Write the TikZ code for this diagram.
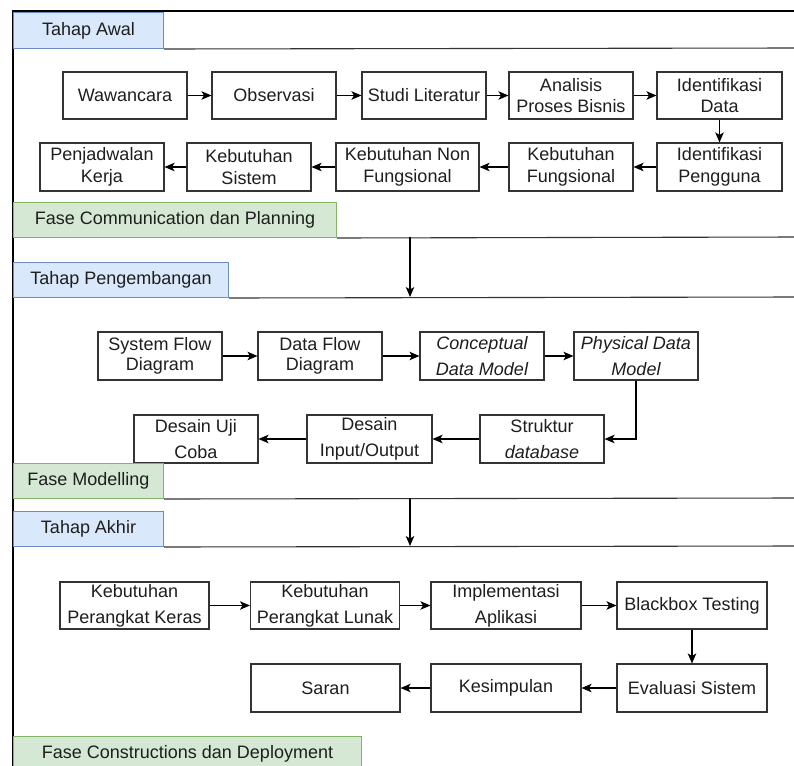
\documentclass[tikz,border=0pt]{standalone}
\usepackage{fontspec}
\setmainfont{Liberation Sans}
\usetikzlibrary{arrows.meta}
\definecolor{laneblue}{HTML}{DAE8FC}
\definecolor{laneblueline}{HTML}{6C8EBF}
\definecolor{lanegreen}{HTML}{D5E8D4}
\definecolor{lanegreenline}{HTML}{82B366}
\definecolor{ink}{HTML}{1E1E1E}
\definecolor{rule}{HTML}{333333}

\begin{document}
\begin{tikzpicture}[x=1pt,y=-1pt,
  stepbox/.style={draw=rule, line width=1.1pt, fill=white, text=ink,
    minimum height=47pt, inner sep=0pt, align=center,
    font=\fontsize{18}{21.5}\selectfont},
  loose/.style={font=\fontsize{18}{26}\selectfont},
  flow/.style={draw=black, line width=1.1pt,
    -{Stealth[length=10pt,width=8.5pt,inset=2.5pt]}},
  tabbase/.style={line width=1pt, inner sep=0pt, anchor=north west,
    text=ink, font=\fontsize{18}{21.5}\selectfont},
  stagetab/.style={tabbase, draw=laneblueline, fill=laneblue},
  phasetab/.style={tabbase, draw=lanegreenline, fill=lanegreen},
  laneline/.style={draw=rule, line width=1.1pt}
]
\useasboundingbox (0,0) rectangle (794,765);

% outer frame (left and top edges)
\draw[line width=2pt, black] (13,770) -- (13,11.5) -- (800,11.5);

% ---------------- Tahap Awal ----------------
\node[stagetab, minimum width=150pt, minimum height=36pt] (tabAwal) at (13,12) {Tahap Awal};
\coordinate (edgeAwal) at (800,48);
\draw[laneline] (tabAwal.south east) -- (edgeAwal);

\node[stepbox, minimum width=124pt] (wawancara) at (125,95.5) {Wawancara};
\node[stepbox, minimum width=124pt] (observasi) at (274,95.5) {Observasi};
\node[stepbox, minimum width=124pt] (studi) at (424,95.5) {Studi Literatur};
\node[stepbox, minimum width=124pt] (analisis) at (571,95.5) {Analisis\\Proses Bisnis};
\node[stepbox, minimum width=125pt] (iddata) at (719.5,95.5) {Identifikasi\\Data};

\node[stepbox, minimum width=124pt, minimum height=48pt] (jadwal) at (102,167) {Penjadwalan\\Kerja};
\node[stepbox, minimum width=124pt, minimum height=48pt] (kebsistem) at (249,167) {Kebutuhan\\Sistem};
\node[stepbox, minimum width=143pt, minimum height=48pt] (kebnon) at (407.5,167) {Kebutuhan Non\\Fungsional};
\node[stepbox, minimum width=124pt, minimum height=48pt] (kebfungsi) at (571,167) {Kebutuhan\\Fungsional};
\node[stepbox, minimum width=125pt, minimum height=48pt] (idpengguna) at (719.5,167) {Identifikasi\\Pengguna};

\draw[flow] (wawancara) -- (observasi);
\draw[flow] (observasi) -- (studi);
\draw[flow] (studi) -- (analisis);
\draw[flow] (analisis) -- (iddata);
\draw[flow] (iddata) -- (idpengguna);
\draw[flow] (idpengguna) -- (kebfungsi);
\draw[flow] (kebfungsi) -- (kebnon);
\draw[flow] (kebnon) -- (kebsistem);
\draw[flow] (kebsistem) -- (jadwal);

\node[phasetab, minimum width=323pt, minimum height=35pt] (faseComm) at (13,202) {Fase Communication dan Planning};
\coordinate (edgeComm) at (800,237);
\draw[laneline] (faseComm.south east) -- (edgeComm);

% ---------------- Tahap Pengembangan ----------------
\node[stagetab, minimum width=215pt, minimum height=35pt] (tabKembang) at (13,262) {Tahap Pengembangan};
\coordinate (edgeKembang) at (800,297);
\draw[laneline] (tabKembang.south east) -- (edgeKembang);

\coordinate (stepOneOut) at (410,237);
\coordinate (stepTwoIn) at (410,297);
\draw[flow] (stepOneOut) -- (stepTwoIn);

\node[stepbox, minimum width=124pt, minimum height=48pt, font=\fontsize{18}{20.5}\selectfont] (sfd) at (160,356) {System Flow\\Diagram};
\node[stepbox, minimum width=124pt, minimum height=48pt, font=\fontsize{18}{20.5}\selectfont] (dfd) at (320,356) {Data Flow\\Diagram};
\node[stepbox, loose, minimum width=124pt, minimum height=48pt] (cdm) at (482,356) {\itshape Conceptual\\\itshape Data Model};
\node[stepbox, loose, minimum width=124pt, minimum height=48pt] (pdm) at (636,356) {\itshape Physical Data\\\itshape Model};

\node[stepbox, loose, minimum width=124pt, minimum height=48pt] (ujicoba) at (196,439) {Desain Uji\\Coba};
\node[stepbox, loose, minimum width=125pt, minimum height=48pt] (desainio) at (369.5,439) {Desain\\Input/Output};
\node[stepbox, loose, minimum width=124pt, minimum height=48pt] (struktur) at (542,439) {Struktur\\\itshape database};

\draw[flow] (sfd) -- (dfd);
\draw[flow] (dfd) -- (cdm);
\draw[flow] (cdm) -- (pdm);
\draw[flow] (pdm.south) |- (struktur.east);
\draw[flow] (struktur) -- (desainio);
\draw[flow] (desainio) -- (ujicoba);

\node[phasetab, minimum width=150pt, minimum height=35pt] (faseModel) at (13,463) {Fase Modelling};
\coordinate (edgeModel) at (800,498);
\draw[laneline] (faseModel.south east) -- (edgeModel);

% ---------------- Tahap Akhir ----------------
\node[stagetab, minimum width=150pt, minimum height=35pt] (tabAkhir) at (13,511) {Tahap Akhir};
\coordinate (edgeAkhir) at (800,546);
\draw[laneline] (tabAkhir.south east) -- (edgeAkhir);

\coordinate (stepTwoOut) at (410,498);
\coordinate (stepThreeIn) at (410,546);
\draw[flow] (stepTwoOut) -- (stepThreeIn);

\node[stepbox, loose, minimum width=149pt] (keras) at (134.5,605.5) {Kebutuhan\\Perangkat Keras};
\node[stepbox, loose, minimum width=149pt] (lunak) at (325,605.5) {Kebutuhan\\Perangkat Lunak};
\node[stepbox, loose, minimum width=150pt] (implementasi) at (506,605.5) {Implementasi\\Aplikasi};
\node[stepbox, minimum width=150pt] (blackbox) at (692,605.5) {Blackbox Testing};

\node[stepbox, minimum width=149pt, minimum height=48pt] (saran) at (325.5,688) {Saran};
\node[stepbox, minimum width=150pt, minimum height=48pt] (kesimpulan) at (506,688) {Kesimpulan};
\node[stepbox, minimum width=150pt, minimum height=48pt] (evaluasi) at (692,688) {Evaluasi Sistem};

\draw[flow] (keras) -- (lunak);
\draw[flow] (lunak) -- (implementasi);
\draw[flow] (implementasi) -- (blackbox);
\draw[flow] (blackbox) -- (evaluasi);
\draw[flow] (evaluasi) -- (kesimpulan);
\draw[flow] (kesimpulan) -- (saran);

\node[phasetab, minimum width=348pt, minimum height=35pt] (faseDeploy) at (13,736) {Fase Constructions dan Deployment};
\end{tikzpicture}
\end{document}
